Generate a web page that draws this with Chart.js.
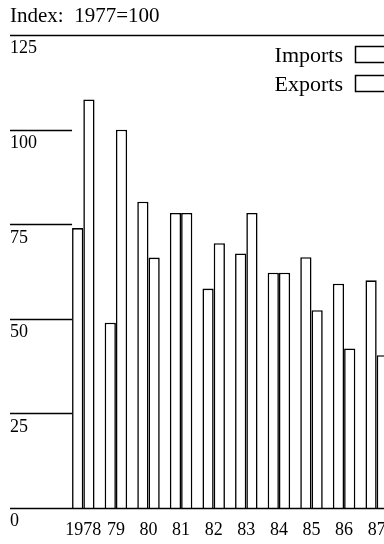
<!DOCTYPE html>
<html>
<head>
<meta charset="utf-8">
<title>Imports and exports index</title>
<script src="https://cdn.jsdelivr.net/npm/chart.js@4.4.1/dist/chart.umd.min.js"></script>
<style>
    body { margin: 0; background: #fff; overflow: hidden; }
    #wrap { position: relative; width: 400px; height: 544px; }
</style>
</head>
<body>
<div id="wrap"><canvas id="barchart"></canvas></div>
<script>
const years = ['1978', '79', '80', '81', '82', '83', '84', '85', '86', '87'];
const imports = [74, 49, 81, 78, 58, 67.3, 62.2, 66.3, 59.3, 60.2];
const exports = [108, 100, 66.2, 78, 70, 78, 62.2, 52.3, 42.2, 40.4];
const yTicks = [0, 25, 50, 75, 100, 125];

const ink = '#000';
const serif = 'Liberation Serif, Times New Roman, serif';

// axis lines: full width at 0 and 125, short stubs up to the first bar for the rest
const axisLines = {
    id: 'axisLines',
    afterDatasetsDraw(chart) {
        const ctx = chart.ctx;
        const y = chart.scales.y;
        const first = chart.getDatasetMeta(0).data[0];
        const stubEnd = first.x - first.width / 2;
        ctx.save();
        ctx.strokeStyle = ink;
        yTicks.forEach(v => {
            const py = Math.round(y.getPixelForValue(v)) + 0.5;
            const full = v === 0 || v === 125;
            ctx.lineWidth = full ? 1.6 : 1.3;
            ctx.beginPath();
            ctx.moveTo(10, py);
            ctx.lineTo(full ? chart.width : stubEnd, py);
            ctx.stroke();
        });
        ctx.restore();
    }
};

// legend: label text on the left, outlined box on the right
const boxLegend = {
    id: 'boxLegend',
    afterDraw(chart) {
        const ctx = chart.ctx;
        ctx.save();
        ctx.font = '22px ' + serif;
        ctx.textAlign = 'right';
        ctx.textBaseline = 'alphabetic';
        chart.data.datasets.forEach((ds, i) => {
            const top = 46.5 + i * 29;
            ctx.fillStyle = ink;
            ctx.fillText(ds.label, 343, top + 15);
            ctx.fillStyle = ds.backgroundColor;
            ctx.strokeStyle = ds.borderColor;
            ctx.lineWidth = 1.5;
            ctx.fillRect(355.5, top, 32, 16);
            ctx.strokeRect(355.5, top, 32, 16);
        });
        ctx.restore();
    }
};

const bar = document.getElementById('barchart');
new Chart(bar, {
    type: 'bar',
    data: {
        labels: years,
        datasets: [{
            label: 'Imports',
            data: imports,
            backgroundColor: '#fff',
            borderColor: ink,
            borderWidth: 1.6,
            borderSkipped: 'start',
            categoryPercentage: 0.69,
            barPercentage: 1.0,
        }, {
            label: 'Exports',
            data: exports,
            backgroundColor: '#fff',
            borderColor: ink,
            borderWidth: 1.6,
            borderSkipped: 'start',
            categoryPercentage: 0.69,
            barPercentage: 1.0,
        }],
    },
    options: {
        responsive: true,
        maintainAspectRatio: false,
        animation: false,
        events: [],
        layout: {
            padding: { left: 10, right: 7, top: 0, bottom: 0 },
        },
        plugins: {
            legend: { display: false },
            tooltip: { enabled: false },
            title: {
                display: true,
                text: 'Index:  1977=100',
                align: 'start',
                color: ink,
                font: { family: serif, size: 21, weight: 'normal' },
                padding: { top: 4, bottom: 6 },
            },
        },
        scales: {
            x: {
                grid: { display: false },
                border: { display: false },
                ticks: {
                    color: ink,
                    font: { family: serif, size: 18 },
                    padding: 3,
                    maxRotation: 0,
                    autoSkip: false,
                },
                afterFit(scale) {
                    scale.height = 36;
                },
            },
            y: {
                min: 0,
                max: 125,
                grid: { display: false },
                border: { display: false },
                ticks: {
                    stepSize: 25,
                    color: ink,
                    font: { family: serif, size: 18 },
                    crossAlign: 'far',
                    labelOffset: 13.5,
                },
                afterFit(scale) {
                    scale.width = 57;
                },
            },
        },
    },
    plugins: [axisLines, boxLegend],
});
</script>
</body>
</html>
